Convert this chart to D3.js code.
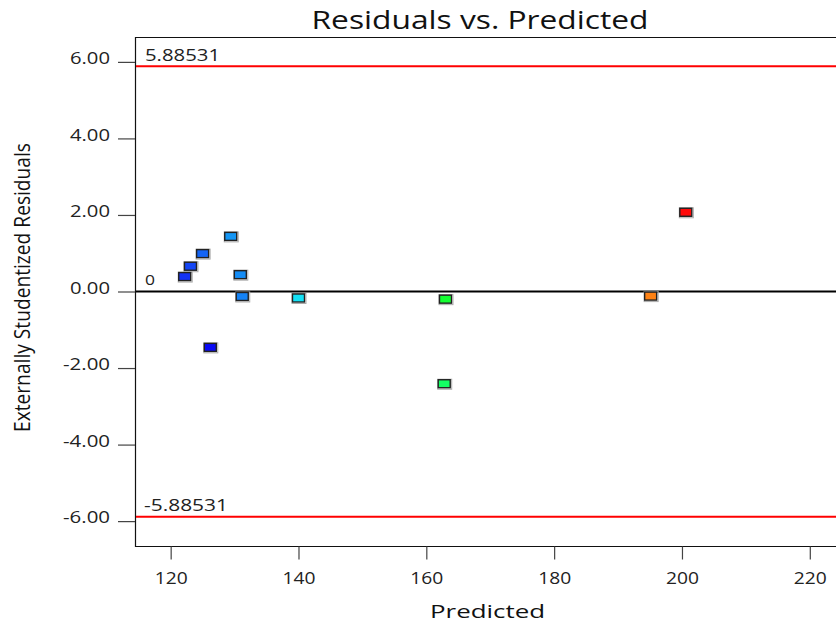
<!DOCTYPE html>
<html>
<head>
<meta charset="utf-8">
<script src="https://cdn.jsdelivr.net/npm/d3@7"></script>
<style>
  html, body { margin: 0; padding: 0; background: #fff; }
  svg { display: block; font-family: "Open Sans", "Noto Sans", sans-serif; }
</style>
</head>
<body>
<svg id="chart" width="836" height="629"></svg>
<script>
// Run data: predicted response vs. externally studentized residual
const predicted = [122.2, 123.1, 125.0, 129.4, 130.9, 131.2, 140.0, 126.2, 200.6, 195.1, 163.0, 162.8];
const residuals = [0.39, 0.66, 0.99, 1.44, 0.44, -0.13, -0.17, -1.46, 2.07, -0.12, -0.20, -2.41];
const pointColors = ["#1432f5", "#1446f5", "#1464f5", "#1496f5", "#148cf5", "#1482f5", "#14e1f5", "#0a0af5",
                     "#ff0a0a", "#ff8214", "#14ff32", "#14ff64"];
const xTicks = [120, 140, 160, 180, 200, 220];
const yTicks = [-6, -4, -2, 0, 2, 4, 6];
const limit = 5.88531;

const svg = d3.select("#chart");
const plotLeft = 135, plotRight = 836, plotTop = 37, plotBottom = 546;

const x = d3.scaleLinear().domain([114.42, 224.1]).range([plotLeft, plotRight]);
const y = d3.scaleLinear().domain([-6.65, 6.65]).range([plotBottom, plotTop]);

// plain hyphen for negative numbers
const fmtY = v => v.toFixed(2);

// frame
svg.append("line").attr("x1", plotLeft).attr("x2", plotRight).attr("y1", plotTop + 0.5).attr("y2", plotTop + 0.5)
  .attr("stroke", "#111").attr("stroke-width", 1.2);
svg.append("line").attr("x1", plotLeft).attr("x2", plotRight).attr("y1", plotBottom + 0.5).attr("y2", plotBottom + 0.5)
  .attr("stroke", "#111").attr("stroke-width", 1.2);
svg.append("line").attr("x1", plotLeft + 0.5).attr("x2", plotLeft + 0.5).attr("y1", plotTop).attr("y2", plotBottom + 1)
  .attr("stroke", "#111").attr("stroke-width", 1.2);

// y axis ticks and labels
const yAxis = d3.axisLeft(y).tickValues(yTicks).tickSize(17).tickPadding(8).tickFormat(fmtY);
const gy = svg.append("g").attr("transform", `translate(${plotLeft},0)`).call(yAxis);
gy.select(".domain").remove();
gy.selectAll(".tick line").attr("stroke", "#444").attr("stroke-width", 1.2);
gy.selectAll(".tick text")
  .attr("fill", "#222").attr("font-size", 16).attr("dy", "0.1em")
  .attr("font-family", "Open Sans, Noto Sans, sans-serif")
  .each(function () {
    const t = d3.select(this);
    t.attr("textLength", t.text().length === 4 ? 40 : 47).attr("lengthAdjust", "spacingAndGlyphs");
  });

// x axis ticks and labels
const xAxis = d3.axisBottom(x).tickValues(xTicks).tickSize(13).tickPadding(10).tickFormat(d3.format("d"));
const gx = svg.append("g").attr("transform", `translate(0,${plotBottom + 0.5})`).call(xAxis);
gx.select(".domain").remove();
gx.selectAll(".tick line").attr("stroke", "#444").attr("stroke-width", 1.2);
gx.selectAll(".tick text")
  .attr("fill", "#222").attr("font-size", 15.5).attr("dy", "0.95em")
  .attr("font-family", "Open Sans, Noto Sans, sans-serif")
  .attr("textLength", 33).attr("lengthAdjust", "spacingAndGlyphs");

// limit lines
[limit, -limit].forEach(v => {
  svg.append("line").attr("x1", plotLeft + 1).attr("x2", plotRight).attr("y1", y(v)).attr("y2", y(v))
    .attr("stroke", "#ff0000").attr("stroke-width", 2);
});
svg.append("text").attr("x", 145).attr("y", y(limit) - 5).attr("font-size", 16).attr("fill", "#222")
  .attr("textLength", 75).attr("lengthAdjust", "spacingAndGlyphs").text(limit.toString());
svg.append("text").attr("x", 144).attr("y", y(-limit) - 6).attr("font-size", 16).attr("fill", "#222")
  .attr("textLength", 84).attr("lengthAdjust", "spacingAndGlyphs").text((-limit).toString());

// zero reference line
svg.append("line").attr("x1", plotLeft + 1).attr("x2", plotRight).attr("y1", y(0)).attr("y2", y(0))
  .attr("stroke", "#000").attr("stroke-width", 2.2);
svg.append("text").attr("x", 145).attr("y", y(0) - 7).attr("font-size", 15).attr("fill", "#222")
  .attr("textLength", 10).attr("lengthAdjust", "spacingAndGlyphs").text("0");

// points
const pts = predicted.map((p, i) => ({ p, r: residuals[i], c: pointColors[i] }));
const w = 12, h = 8;
const g = svg.append("g");
g.selectAll("rect.shadow").data(pts).join("rect").attr("class", "shadow")
  .attr("x", d => x(d.p) - w / 2 - 0.5).attr("y", d => y(d.r) - h / 2 - 0.5)
  .attr("width", w + 2).attr("height", h + 2)
  .attr("fill", "none").attr("stroke", "#aaa").attr("stroke-width", 1);
g.selectAll("rect.pt").data(pts).join("rect").attr("class", "pt")
  .attr("x", d => x(d.p) - w / 2).attr("y", d => y(d.r) - h / 2)
  .attr("width", w).attr("height", h)
  .attr("fill", d => d.c).attr("stroke", "#222").attr("stroke-width", 1.4);

// titles
svg.append("text").attr("x", 311.5).attr("y", 29).attr("font-size", 25).attr("fill", "#111")
  .attr("textLength", 337).attr("lengthAdjust", "spacingAndGlyphs").text("Residuals vs. Predicted");
svg.append("text").attr("x", 430).attr("y", 617.5).attr("font-size", 18).attr("fill", "#111")
  .attr("textLength", 115).attr("lengthAdjust", "spacingAndGlyphs").text("Predicted");
svg.append("text")
  .attr("transform", "translate(30,432) rotate(-90)")
  .attr("font-size", 21).attr("fill", "#111")
  .attr("font-family", "Open Sans, Noto Sans, sans-serif")
  .attr("textLength", 289).attr("lengthAdjust", "spacingAndGlyphs")
  .text("Externally Studentized Residuals");
</script>
</body>
</html>
